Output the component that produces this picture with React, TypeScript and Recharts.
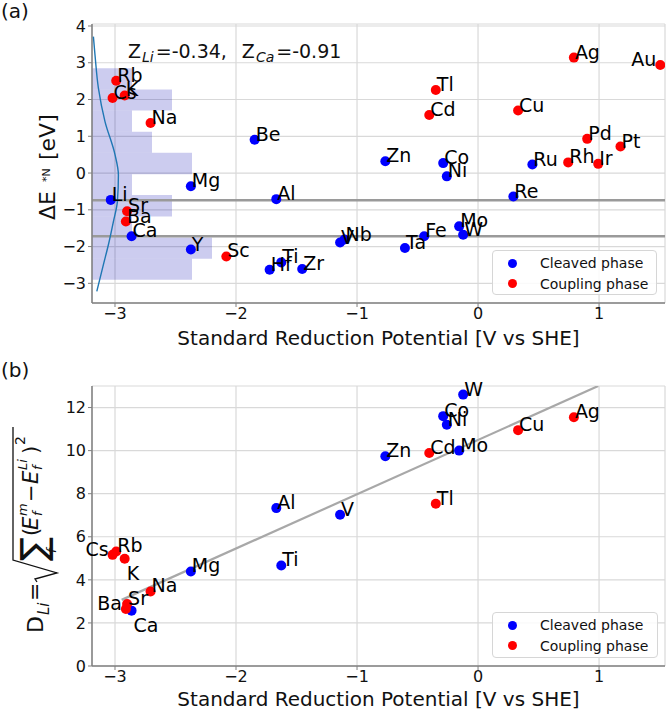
import React from "react";
import {
  ScatterChart,
  Scatter,
  XAxis,
  YAxis,
  CartesianGrid,
  ReferenceArea,
  ReferenceLine,
  LabelList,
  Legend,
} from "recharts";

const FONT = "'DejaVu Sans', sans-serif";
const SPINE = "#808080";
const GRID = "#d9d9d9";
const BLUE = "#0000ff";
const RED = "#ff0000";

// elements and their standard reduction potential [V vs SHE]
const elements = ["Li", "Cs", "Rb", "K", "Ba", "Sr", "Ca", "Na", "Mg", "Y", "Sc", "Be", "Hf", "Al", "Ti", "Zr", "V", "Nb", "Zn", "Ta", "Fe", "Cd", "Tl", "Co", "Ni", "Mo", "W", "Re", "Cu", "Ru", "Rh", "Ag", "Pd", "Ir", "Pt", "Au"];
const potentials = [-3.035, -3.02, -2.99, -2.92, -2.91, -2.9, -2.863, -2.706, -2.373, -2.373, -2.08, -1.846, -1.722, -1.667, -1.626, -1.453, -1.14, -1.104, -0.766, -0.604, -0.445, -0.403, -0.349, -0.288, -0.258, -0.156, -0.123, 0.292, 0.331, 0.449, 0.745, 0.792, 0.902, 0.993, 1.177, 1.506];
// panel (a): ΔE *N [eV]
const deltaE = [-0.73, 2.04, 2.51, 2.11, -1.32, -1.04, -1.72, 1.36, -0.36, -2.08, -2.27, 0.905, -2.63, -0.71, -2.43, -2.61, -1.89, -1.81, 0.32, -2.04, -1.72, 1.58, 2.26, 0.27, -0.09, -1.45, -1.68, -0.64, 1.7, 0.23, 0.29, 3.14, 0.93, 0.25, 0.72, 2.94];
const couplingTop = ["Rb", "Cs", "K", "Na", "Sr", "Ba", "Sc", "Tl", "Cd", "Cu", "Ag", "Au", "Pd", "Pt", "Rh", "Ir"];

// histogram of ΔE (bin edges, counts from bottom to top)
const histEdges = [-2.9, -2.33, -1.75, -1.18, -0.6, -0.03, 0.55, 1.12, 1.7, 2.27, 2.85];
const histCounts = [5, 6, 2, 4, 2, 5, 3, 2, 4, 2];
// fitted density curve (histogram count units, ΔE)
const kdeCount = [0.24, 0.57, 0.82, 1.07, 1.27, 1.32, 1.15, 0.65, 0.32, 0.15, 0.07];
const kdeLevel = [-3.22, -2.49, -1.95, -1.32, -0.77, -0.05, 0.5, 1.4, 2.31, 3.21, 3.71];
const levelLines = [-0.74, -1.72];

// panel (b): D_Li
const dNames = ["Cs", "Rb", "K", "Na", "Ba", "Sr", "Ca", "Mg", "Ti", "Al", "V", "Zn", "Cd", "Mo", "Co", "Ni", "W", "Cu", "Ag", "Tl"];
const dValues = [5.16, 5.32, 4.98, 3.46, 2.65, 2.88, 2.57, 4.39, 4.67, 7.33, 7.02, 9.74, 9.89, 10.0, 11.6, 11.2, 12.6, 10.95, 11.55, 7.53];
const couplingBottom = ["Cs", "Rb", "K", "Na", "Ba", "Sr", "Cd", "Cu", "Ag", "Tl"];
const fitX = [-2.945, 0.993];
const fitY = [3.07, 13.0];

const xTicks = [-3, -2, -1, 0, 1];
const yTicksTop = [-3, -2, -1, 0, 1, 2, 3, 4];
const yTicksBottom = [0, 2, 4, 6, 8, 10, 12];

const potentialOf = (name: string) => potentials[elements.indexOf(name)];

const topPoints = elements.map((name, i) => ({ name, x: potentials[i], y: deltaE[i] }));
const topCleaved = topPoints.filter((p) => !couplingTop.includes(p.name));
const topCoupling = topPoints.filter((p) => couplingTop.includes(p.name));

const bottomPoints = dNames.map((name, i) => ({ name, x: potentialOf(name), y: dValues[i] }));
const bottomCleaved = bottomPoints.filter((p) => !couplingBottom.includes(p.name));
const bottomCoupling = bottomPoints.filter((p) => couplingBottom.includes(p.name));

const kdeData = kdeCount.map((c, i) => ({ x: c, y: kdeLevel[i] }));
const fitData = fitX.map((x, i) => ({ x, y: fitY[i] }));

// label placement tweaks (where the figure moved a label off the default)
const topPlacement: Record<string, string> = { Au: "left" };
const bottomPlacement: Record<string, string> = { Cs: "left", Ba: "left", K: "below", Ca: "below" };

const fmt = (v: number) => (v < 0 ? `\u2212${Math.abs(v)}` : `${v}`);

const makeLabel = (placement: Record<string, string>) => (props: any) => {
  const vb = props.viewBox && props.viewBox.width !== undefined ? props.viewBox : props;
  const cx = vb.x + vb.width / 2;
  const cy = vb.y + vb.height / 2;
  const name = String(props.value);
  const where = placement[name];
  let x = cx + 1;
  let y = cy + 1;
  let anchor: "start" | "end" = "start";
  if (where === "left") {
    x = cx - 4;
    anchor = "end";
  } else if (where === "below") {
    x = cx + 2;
    y = cy + 21;
  }
  return (
    <text x={x} y={y} textAnchor={anchor} fontSize={19} fill="#000">
      {name}
    </text>
  );
};

const dot = (props: any) => <circle cx={props.cx} cy={props.cy} r={5} fill={props.fill} />;
const noDot = () => <g />;

const LegendBox = (props: any) => {
  const items = (props.payload || []).filter((p: any) => p.type !== "none");
  return (
    <div
      style={{
        width: "100%",
        height: "100%",
        boxSizing: "border-box",
        border: "1px solid #d6d6d6",
        borderRadius: 4,
        background: "rgba(255,255,255,0.85)",
        fontFamily: FONT,
        fontSize: 14,
        color: "#111",
        paddingTop: 2,
      }}
    >
      {items.map((p: any) => (
        <div key={p.value} style={{ display: "flex", alignItems: "center", height: 20.5 }}>
          <span
            style={{
              display: "inline-block",
              width: 9,
              height: 9,
              borderRadius: "50%",
              background: p.color,
              marginLeft: 15,
              marginRight: 23,
            }}
          />
          <span>{p.value}</span>
        </div>
      ))}
    </div>
  );
};

const axisLine = { stroke: SPINE, strokeWidth: 1.5 };
const tickStyle = { fill: "#111", fontSize: 16 };

const App = () => {
  return (
    <div style={{ position: "absolute", left: 0, top: 0, width: 666, height: 710, fontFamily: FONT, background: "#fff" }}>
      <div style={{ position: "absolute", left: 0, top: 0 }}>
        <ScatterChart width={666} height={355} margin={{ top: 24, right: 1, bottom: 0, left: 0 }}>
          <CartesianGrid stroke={GRID} strokeWidth={1.2} />
          {histCounts.map((c, i) => (
            <ReferenceArea
              key={i}
              xAxisId="hist"
              x1={0}
              x2={c}
              y1={histEdges[i]}
              y2={histEdges[i + 1]}
              fill="#0000b0"
              fillOpacity={0.2}
              stroke="none"
            />
          ))}
          <Scatter
            data={kdeData}
            xAxisId="hist"
            line={{ stroke: "#1f77b4", strokeWidth: 1.4 }}
            lineJointType="monotoneY"
            shape={noDot}
            legendType="none"
            isAnimationActive={false}
          />
          {levelLines.map((v) => (
            <ReferenceLine key={v} y={v} stroke="#9a9a9a" strokeWidth={2.5} />
          ))}
          <Scatter name="Cleaved phase" data={topCleaved} fill={BLUE} shape={dot} isAnimationActive={false}>
            <LabelList dataKey="name" content={makeLabel(topPlacement)} />
          </Scatter>
          <Scatter name="Coupling phase" data={topCoupling} fill={RED} shape={dot} isAnimationActive={false}>
            <LabelList dataKey="name" content={makeLabel(topPlacement)} />
          </Scatter>
          <XAxis
            type="number"
            dataKey="x"
            domain={[-3.19, 1.545]}
            allowDataOverflow
            ticks={xTicks}
            interval={0}
            tickFormatter={fmt}
            height={52}
            tickSize={4}
            tickMargin={1}
            tick={tickStyle}
            tickLine={{ stroke: SPINE }}
            axisLine={axisLine}
            label={{ value: "Standard Reduction Potential [V vs SHE]", position: "insideBottom", offset: 10, fill: "#111", fontSize: 20 }}
          />
          <XAxis
            xAxisId="hist"
            dataKey="x"
            type="number"
            orientation="top"
            domain={[0, 28.65]}
            allowDataOverflow
            ticks={[0, 28.65]}
            height={0}
            tick={false}
            tickLine={false}
            axisLine={axisLine}
          />
          <YAxis
            type="number"
            dataKey="y"
            domain={[-3.535, 4.054]}
            allowDataOverflow
            ticks={yTicksTop}
            interval={0}
            tickFormatter={fmt}
            width={92}
            tickSize={4}
            tickMargin={2}
            tick={tickStyle}
            tickLine={{ stroke: SPINE }}
            axisLine={axisLine}
          />
          <YAxis yAxisId="right" orientation="right" type="number" domain={[0, 1]} width={0} tick={false} tickLine={false} axisLine={axisLine} />
          <Legend
            layout="vertical"
            align="center"
            verticalAlign="middle"
            content={LegendBox}
            wrapperStyle={{ position: "absolute", left: 492, top: 250, width: 165, height: 45 }}
          />
        </ScatterChart>
      </div>

      <div style={{ position: "absolute", left: 0, top: 355 }}>
        <ScatterChart width={666} height={355} margin={{ top: 31, right: 1, bottom: 0, left: 0 }}>
          <CartesianGrid stroke={GRID} strokeWidth={1.2} />
          <Scatter
            data={fitData}
            line={{ stroke: "#a8a8a8", strokeWidth: 2.2 }}
            shape={noDot}
            legendType="none"
            isAnimationActive={false}
          />
          <Scatter name="Cleaved phase" data={bottomCleaved} fill={BLUE} shape={dot} isAnimationActive={false}>
            <LabelList dataKey="name" content={makeLabel(bottomPlacement)} />
          </Scatter>
          <Scatter name="Coupling phase" data={bottomCoupling} fill={RED} shape={dot} isAnimationActive={false}>
            <LabelList dataKey="name" content={makeLabel(bottomPlacement)} />
          </Scatter>
          <XAxis
            type="number"
            dataKey="x"
            domain={[-3.19, 1.545]}
            allowDataOverflow
            ticks={xTicks}
            interval={0}
            tickFormatter={fmt}
            height={44}
            tickSize={4}
            tickMargin={1}
            tick={tickStyle}
            tickLine={{ stroke: SPINE }}
            axisLine={axisLine}
            label={{ value: "Standard Reduction Potential [V vs SHE]", position: "insideBottom", offset: 4, fill: "#111", fontSize: 20 }}
          />
          <XAxis xAxisId="top" type="number" orientation="top" domain={[0, 1]} height={0} tick={false} tickLine={false} axisLine={axisLine} />
          <YAxis
            type="number"
            dataKey="y"
            domain={[0, 13]}
            allowDataOverflow
            ticks={yTicksBottom}
            interval={0}
            width={92}
            tickSize={4}
            tickMargin={2}
            tick={tickStyle}
            tickLine={{ stroke: SPINE }}
            axisLine={axisLine}
          />
          <YAxis yAxisId="right" orientation="right" type="number" domain={[0, 1]} width={0} tick={false} tickLine={false} axisLine={axisLine} />
          <Legend
            layout="vertical"
            align="center"
            verticalAlign="middle"
            content={LegendBox}
            wrapperStyle={{ position: "absolute", left: 492, top: 257, width: 166, height: 46 }}
          />
        </ScatterChart>
      </div>

      <svg width={666} height={710} style={{ position: "absolute", left: 0, top: 0, pointerEvents: "none" }} fontFamily={FONT}>
        <text x={1} y={18} fontSize={20} fill="#111">(a)</text>
        <text x={1} y={377} fontSize={20} fill="#111">(b)</text>

        <text x={128} y={58} fontSize={19} fill="#111">
          Z<tspan fontSize={14} fontStyle="italic" dy={4} dx={1}>Li</tspan>
          <tspan dy={-4} dx={2}>=-0.34,</tspan>
          <tspan dx={15}>Z</tspan>
          <tspan fontSize={14} fontStyle="italic" dy={4} dx={1}>Ca</tspan>
          <tspan dy={-4} dx={2}>=-0.91</tspan>
        </text>

        <g transform="translate(55,220) rotate(-90)" fill="#111">
          <text x={0} y={0} fontSize={22}>ΔE</text>
          <text x={38} y={-5} fontSize={11}>*N</text>
          <text x={60} y={0} fontSize={22}>[eV]</text>
        </g>

        <g transform="translate(43,633) rotate(-90)" fill="#111">
          <text x={0} y={0} fontSize={22}>D</text>
          <text x={18} y={6} fontSize={15} fontStyle="italic">Li</text>
          <text x={32} y={-1} fontSize={22}>=</text>
          <path d="M 51 -6 L 54 -8 L 60 14 L 73 -30 L 206 -30" fill="none" stroke="#111" strokeWidth={1.3} />
          <text x={72} y={3} fontSize={36}>∑</text>
          <text x={80} y={13} fontSize={13} fontStyle="italic">f</text>
          <text x={97} y={-5} fontSize={21}>(</text>
          <text x={103} y={-5} fontSize={21} fontStyle="italic">E</text>
          <text x={117} y={-16} fontSize={13} fontStyle="italic">m</text>
          <text x={117} y={-1} fontSize={13} fontStyle="italic">f</text>
          <text x={131} y={-5} fontSize={21}>−</text>
          <text x={149} y={-5} fontSize={21} fontStyle="italic">E</text>
          <text x={163} y={-16} fontSize={13} fontStyle="italic">Li</text>
          <text x={163} y={-1} fontSize={13} fontStyle="italic">f</text>
          <text x={179} y={-5} fontSize={21}>)</text>
          <text x={188} y={-18} fontSize={14}>2</text>
        </g>
      </svg>
    </div>
  );
};

export default App;
